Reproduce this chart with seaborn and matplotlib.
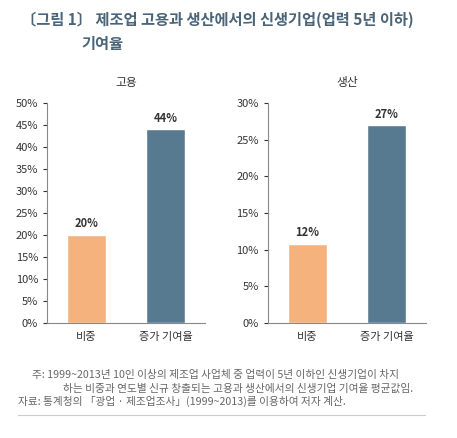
import matplotlib
matplotlib.use("Agg")
import matplotlib.pyplot as plt
import seaborn as sns
import pandas as pd
from matplotlib.ticker import FuncFormatter, MultipleLocator

sns.set_style("white")
plt.rcParams['font.family'] = ['Noto Sans CJK KR', 'DejaVu Sans']

categories = ["비중", "증가 기여율"]
emp_values = [20, 44]
emp_labels = ["20%", "44%"]
prod_values = [10.8, 27]
prod_labels = ["12%", "27%"]
colors = ["#f6b27c", "#587a91"]

fig = plt.figure(figsize=(4.57, 4.38), dpi=100)
fig.text(0.045, 0.955, "〔그림 1〕 제조업 고용과 생산에서의 신생기업(업력 5년 이하)",
         color="#4a6479", fontsize=11, fontweight="bold", va="center")
fig.text(0.178, 0.9, "기여율", color="#4a6479", fontsize=11, fontweight="bold", va="center")

specs = [(0.103, "고용", emp_values, emp_labels, 50), (0.586, "생산", prod_values, prod_labels, 30)]
for left, title, vals, labs, ymax in specs:
    ax = fig.add_axes([left, 0.263, 0.346, 0.502])
    df = pd.DataFrame({"cat": categories, "val": vals})
    sns.barplot(data=df, x="cat", y="val", hue="cat", palette=colors, ax=ax,
                width=0.5, legend=False, saturation=1)
    ax.set_ylim(0, ymax)
    ax.yaxis.set_major_locator(MultipleLocator(5))
    ax.yaxis.set_major_formatter(FuncFormatter(lambda v, p: f"{int(v)}%"))
    ax.set_xlabel("")
    ax.set_ylabel("")
    for s in ["top", "right"]:
        ax.spines[s].set_visible(False)
    for s in ["left", "bottom"]:
        ax.spines[s].set_color("#888888")
        ax.spines[s].set_linewidth(0.8)
    ax.tick_params(axis="both", labelsize=8, colors="#333333", length=3, left=True, bottom=False)
    for i, (v, l) in enumerate(zip(vals, labs)):
        ax.text(i, v + ymax * 0.02, l, ha="center", va="bottom", fontsize=8, fontweight="bold", color="#333333")
    ax.set_title(title, fontsize=8.5, color="#333333", pad=12)

fig.text(0.07, 0.143, "주: 1999~2013년 10인 이상의 제조업 사업체 중 업력이 5년 이하인 신생기업이 차지",
         fontsize=7.7, color="#666666", va="center")
fig.text(0.138, 0.113, "하는 비중과 연도별 신규 창출되는 고용과 생산에서의 신생기업 기여율 평균값임.",
         fontsize=7.7, color="#666666", va="center")
fig.text(0.04, 0.083, "자료: 통계청의 「광업 · 제조업조사」(1999~2013)를 이용하여 저자 계산.",
         fontsize=7.7, color="#666666", va="center")
fig.add_artist(plt.Line2D([0.04, 0.93], [0.052, 0.052], color="#cccccc", lw=0.8))

fig.savefig("out.png", dpi=100)
